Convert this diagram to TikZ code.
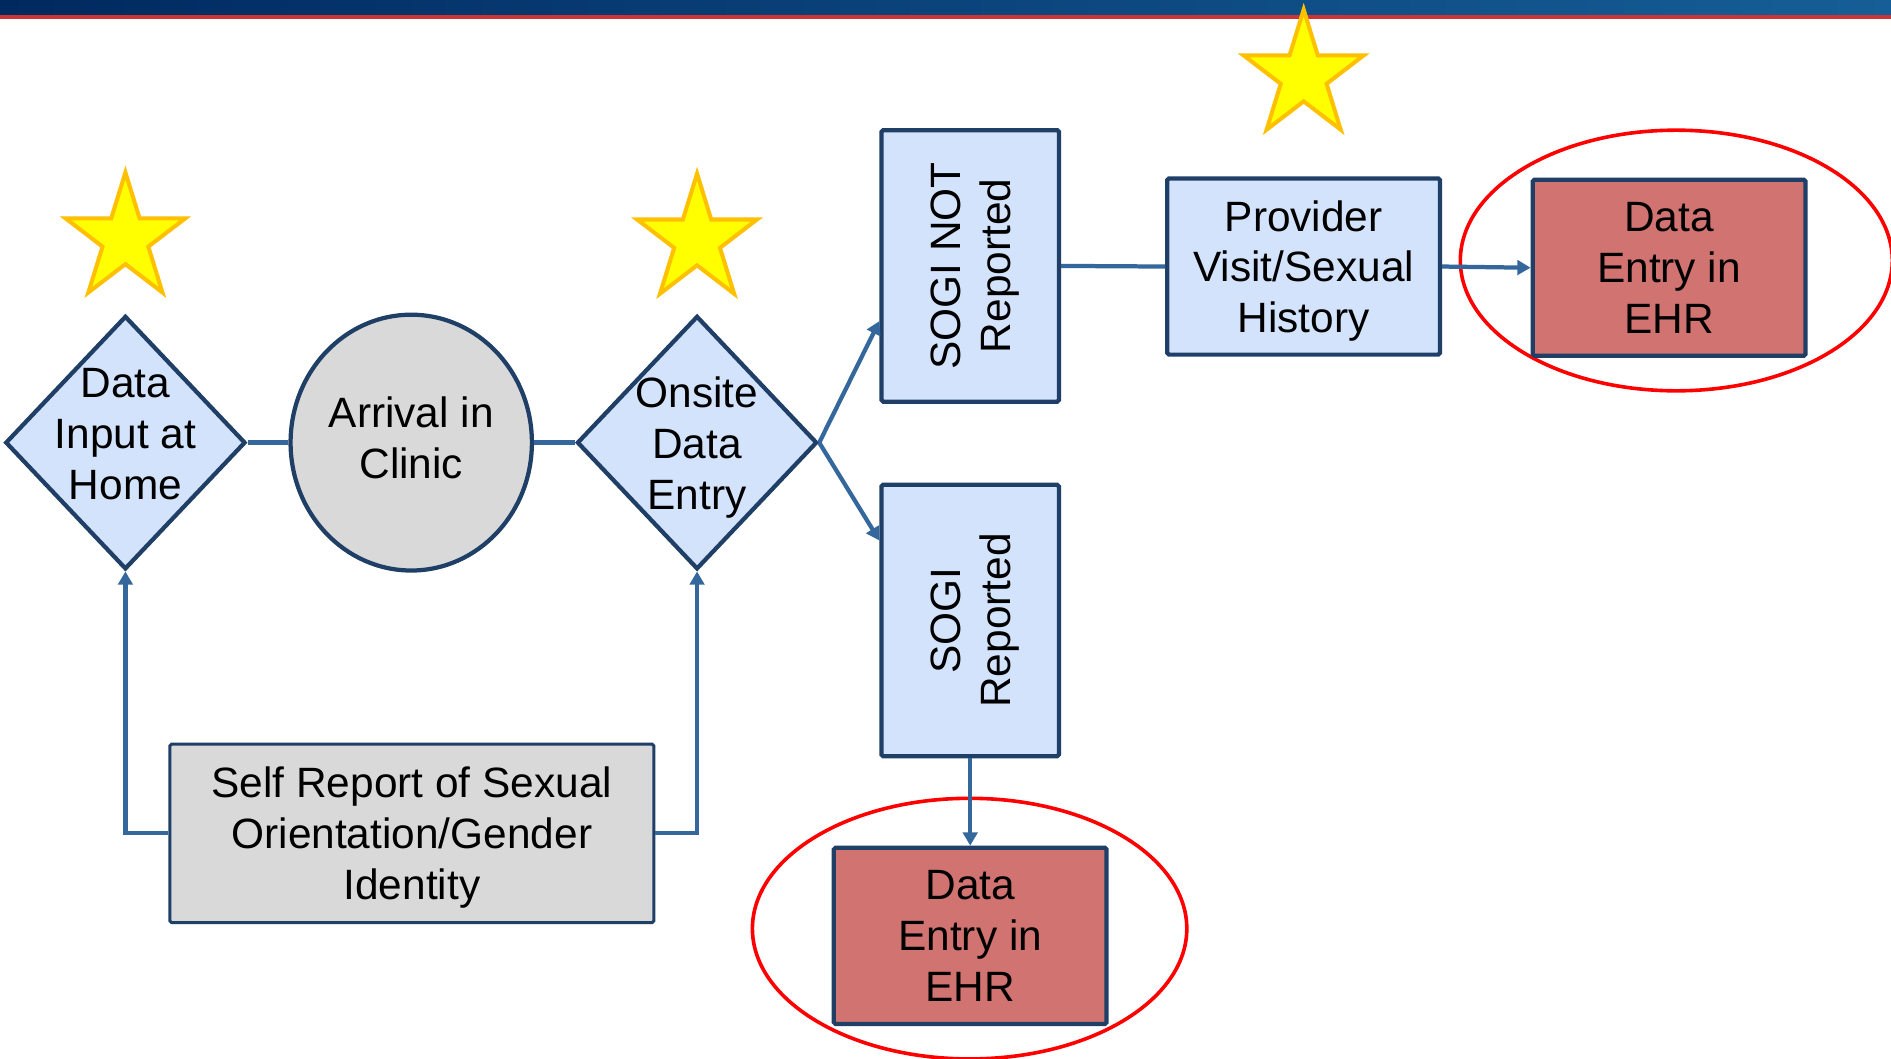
\documentclass[tikz,border=0pt]{standalone}
\usepackage{fontspec}
\setmainfont{Liberation Sans}
\usetikzlibrary{shapes.geometric,arrows.meta,calc}

\definecolor{boxblue}{HTML}{D3E3FC}
\definecolor{edgenavy}{HTML}{1F3F66}
\definecolor{linkblue}{HTML}{34679B}
\definecolor{paleslate}{HTML}{D9D9D9}
\definecolor{ehrred}{HTML}{D07371}
\definecolor{ringred}{HTML}{FF0000}
\definecolor{staryellow}{HTML}{FFFF00}
\definecolor{staredge}{HTML}{FFC000}
\definecolor{barblueL}{HTML}{00295F}
\definecolor{barblueR}{HTML}{165E97}
\definecolor{barred}{HTML}{CC3333}

\newcommand{\sidewaystext}[2]{\hspace*{2.4pt}\rotatebox{90}{\begin{tabular}{@{}c@{}}#1\\#2\end{tabular}}}

\begin{document}
\begin{tikzpicture}[x=0.01cm,y=-0.01cm,
  every node/.style={font=\fontsize{10}{12}\selectfont, align=center, text=black},
  decision/.style={diamond, draw=edgenavy, line width=1pt, fill=boxblue,
    inner sep=0pt, minimum width=1.99cm, minimum height=2.10cm},
  arrival/.style={ellipse, draw=edgenavy, line width=1pt, fill=paleslate,
    inner sep=0pt, minimum width=2.0cm, minimum height=2.12cm},
  stepbox/.style={rectangle, draw=edgenavy, line width=1pt, fill=boxblue,
    inner sep=0pt, rounded corners=0.4pt, text depth=0pt},
  tallbox/.style={stepbox, minimum width=1.47cm, minimum height=2.25cm},
  widebox/.style={stepbox, minimum width=2.26cm, minimum height=1.46cm},
  ehrbox/.style={widebox, fill=ehrred},
  selfbox/.style={rectangle, draw=edgenavy, line width=0.7pt, fill=paleslate,
    inner sep=0pt, rounded corners=0.4pt, text depth=0pt,
    minimum width=4.01cm, minimum height=1.48cm},
  caption/.style={inner sep=0pt},
  link/.style={draw=linkblue, line width=1pt},
  flow/.style={link, -{Triangle[length=0.11cm, width=0.12cm]}},
  ring/.style={ellipse, draw=ringred, line width=0.85pt, inner sep=0pt},
  award/.style={star, star points=5, star point ratio=2.618, minimum size=1.10cm,
    inner sep=0pt, fill=staryellow, draw=staredge, line width=0.95pt,
    line join=miter, xscale=0.95}
]
% canvas
\fill[white] (0,0) rectangle (1568,878);
\useasboundingbox (0,0) rectangle (1568,878);

% header band
\shade[left color=barblueL, right color=barblueR] (0,0) rectangle (1568,12.5);
\fill[barred] (0,12.5) rectangle (1568,15.5);

% highlight rings
\node[ring, minimum width=3.58cm, minimum height=2.16cm] (ringtop) at (1390,216) {};
\node[ring, minimum width=3.60cm, minimum height=2.16cm] (ringbot) at (804,770) {};

% flow shapes
\node[decision] (home) at (104,367) {};
\node[caption] (hometxt) at (104,360) {Data\\Input at\\Home};

\node[arrival] (clinic) at (341,367) {};
\node[caption] (clinictxt) at (341,363) {Arrival in\\Clinic};

\node[decision] (onsite) at (578,367) {};
\node[caption] (onsitetxt) at (578,371) {Onsite\\Data\\Entry};

\node[tallbox] (notrep) at (804.5,220.5) {\sidewaystext{SOGI NOT}{Reported}};
\node[tallbox] (rep) at (804.5,514.5) {\sidewaystext{SOGI}{Reported}};

\node[widebox] (provider) at (1081,221) {Provider\\Visit/Sexual\\History};
\node[ehrbox] (ehrtop) at (1384,222) {Data\\Entry in\\EHR};
\node[ehrbox] (ehrbot) at (804.5,776) {Data\\Entry in\\EHR};

\node[selfbox] (selfrep) at (341.5,691)
  {Self Report of Sexual\\Orientation/Gender\\Identity};

% connectors
\draw[link] (home.east) -- (clinic.west);
\draw[link] (clinic.east) -- (onsite.west);
\draw[flow] (onsite.east) -- ($(notrep.north west)!0.70!(notrep.south west)$);
\draw[flow] (onsite.east) -- ($(rep.north west)!0.21!(rep.south west)$);
\draw[link] (notrep.east) -- (provider.west);
\draw[flow] (provider.east) -- (ehrtop.west);
\draw[flow] (rep.south) -- (ehrbot.north);
\draw[flow] (selfrep.west) -| (home.south);
\draw[flow] (selfrep.east) -| (onsite.south);

% stars
\node[award] (starhome) at (104,198) {};
\node[award] (staronsite) at (578,199) {};
\node[award] (starprovider) at (1081,63) {};
\end{tikzpicture}
\end{document}
